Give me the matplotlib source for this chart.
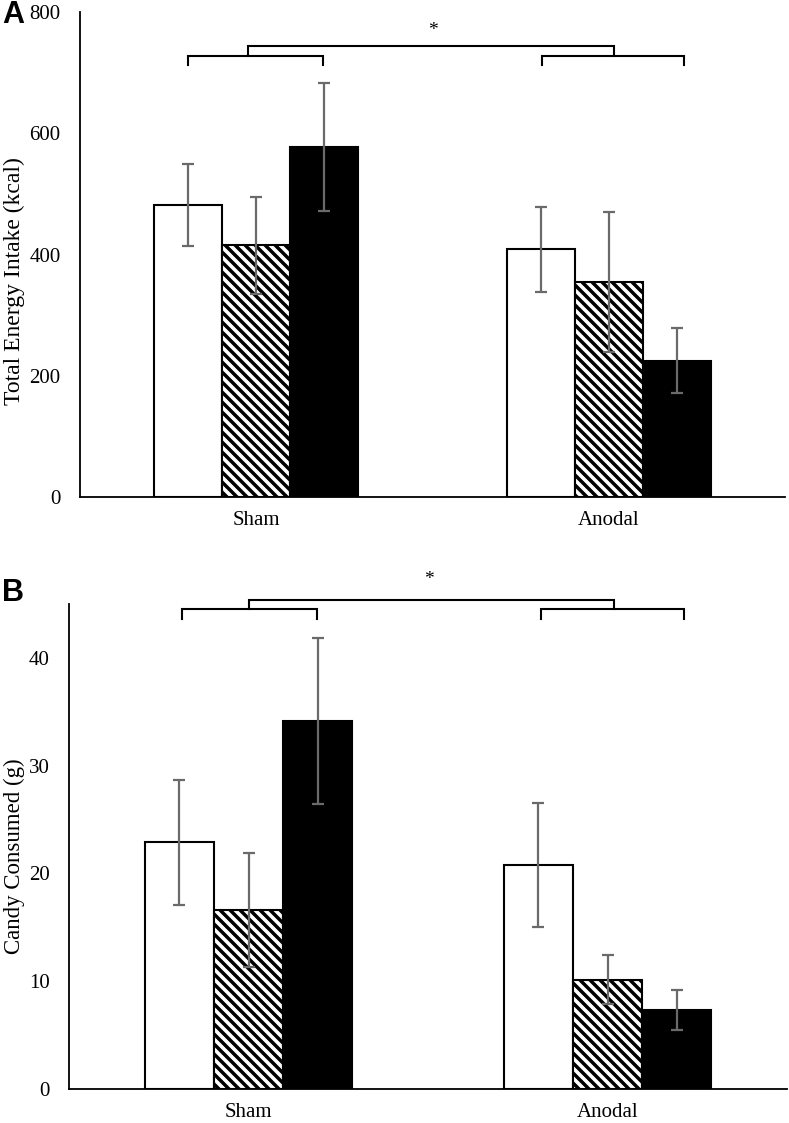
import numpy as np
import matplotlib
matplotlib.use("Agg")
import matplotlib.pyplot as plt
from matplotlib.backend_bases import GraphicsContextBase

plt.rcParams['font.family'] = ['Liberation Serif', 'DejaVu Serif']
plt.rcParams['hatch.linewidth'] = 2.5

# denser hatch than matplotlib's fixed default (6 per inch-square);
# an even count keeps the tiles seamless
_hatch_path = GraphicsContextBase.get_hatch_path
GraphicsContextBase.get_hatch_path = lambda self, density=6.0: _hatch_path(self, density=20.0)

groups = ['Sham', 'Anodal']
# three conditions per group: white, hatched, black
energy = [[482, 415, 577], [409, 355, 225]]
energy_err = [[68, 80, 106], [70, 115, 54]]
candy = [[22.9, 16.6, 34.1], [20.8, 10.15, 7.35]]
candy_err = [[5.8, 5.3, 7.7], [5.75, 2.3, 1.85]]

width = 0.193
offsets = [-width, 0, width]
styles = [dict(color='white', hatch=None),
          dict(color='white', hatch='\\'),
          dict(color='black', hatch=None)]


def draw_panel(ax, vals, errs, ymax, yticks, ylabel, labelsize):
    x = np.arange(len(groups))
    for k in range(3):
        v = [vals[g][k] for g in range(len(groups))]
        e = [errs[g][k] for g in range(len(groups))]
        ax.bar(x + offsets[k], v, width, facecolor=styles[k]['color'],
               edgecolor='black', linewidth=1.5, hatch=styles[k]['hatch'], zorder=2)
        ax.errorbar(x + offsets[k], v, yerr=e, fmt='none', ecolor='#6a6a6a',
                    elinewidth=1.6, capsize=4, capthick=1.6, zorder=3)
    ax.set_xlim(-0.5, 1.5)
    ax.set_ylim(0, ymax)
    ax.set_yticks(yticks)
    ax.set_xticks(x)
    ax.set_xticklabels(groups)
    ax.tick_params(axis='y', length=0, pad=14, labelsize=15)
    ax.tick_params(axis='x', length=0, pad=10, labelsize=15)
    for s in ['top', 'right']:
        ax.spines[s].set_visible(False)
    for s in ['left', 'bottom']:
        ax.spines[s].set_linewidth(1.3)
    ax.set_ylabel(ylabel, fontsize=labelsize)


def bracket(ax, x0, x1, y, leg, **kw):
    ax.plot([x0, x0, x1, x1], [y - leg, y, y, y - leg], color='black',
            lw=1.5, clip_on=False, solid_joinstyle='miter', **kw)


fig = plt.figure(figsize=(7.89, 11.23), dpi=100)
axA = fig.add_axes([0.1014, 0.5574, 0.8935, 0.4319])
axB = fig.add_axes([0.0875, 0.0303, 0.910, 0.4319])

draw_panel(axA, energy, energy_err, 800, [0, 200, 400, 600, 800],
           'Total Energy Intake (kcal)', 17)
draw_panel(axB, candy, candy_err, 45, [0, 10, 20, 30, 40],
           'Candy Consumed (g)', 16.5)
axA.yaxis.set_label_coords(-0.078, 0.445)
axB.yaxis.set_label_coords(-0.061, 0.48)

# significance brackets
bracket(axA, -0.194, 0.189, 727, 15)
bracket(axA, 0.81, 1.214, 727, 15)
bracket(axA, -0.023, 1.016, 744, 17)
axA.text(0.5, 770, '*', ha='center', va='center', fontsize=14)

bracket(axB, -0.186, 0.19, 44.5, 0.85)
bracket(axB, 0.815, 1.213, 44.5, 0.85)
bracket(axB, 0.0, 1.018, 45.4, 0.9)
axB.text(0.503, 47.3, '*', ha='center', va='center', fontsize=14)

fig.text(0.003, 0.987, 'A', fontsize=22, fontweight='bold', family='Liberation Sans',
         va='center', ha='left')
fig.text(0.003, 0.472, 'B', fontsize=22, fontweight='bold', family='Liberation Sans',
         va='center', ha='left')

fig.savefig('out.png', dpi=100)
